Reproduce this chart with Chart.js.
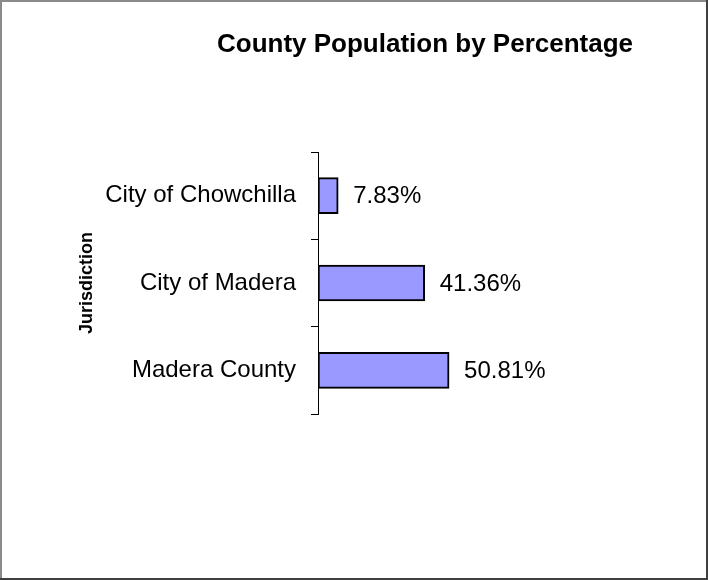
<!DOCTYPE html>
<html>
<head>
<meta charset="utf-8">
<script src="https://cdn.jsdelivr.net/npm/chart.js@4/dist/chart.umd.min.js"></script>
<style>
    body { margin: 0; background: #fff; }
    canvas { display: block; background: #fff; }
</style>
</head>
<body>
<canvas id="pop-chart" width="708" height="580"></canvas>
<script>
// Chart data
const jurisdictions = ['City of Chowchilla', 'City of Madera', 'Madera County'];
const percentages = [7.83, 41.36, 50.81];
const chartTitle = 'County Population by Percentage';
const axisTitle = 'Jurisdiction';

const fontFamily = "'Liberation Sans', Arial, sans-serif";

// Frame around the whole picture + title
const framePlugin = {
    id: 'frame',
    afterDraw(chart) {
        const ctx = chart.ctx;
        const w = chart.width, h = chart.height;
        ctx.save();
        ctx.strokeStyle = '#8a8a8a';
        ctx.lineWidth = 2;
        ctx.beginPath();
        ctx.moveTo(1, h); ctx.lineTo(1, 1); ctx.lineTo(w, 1);
        ctx.stroke();
        ctx.strokeStyle = '#404040';
        ctx.lineWidth = 2;
        ctx.beginPath();
        ctx.moveTo(w - 1, 0); ctx.lineTo(w - 1, h - 1); ctx.lineTo(0, h - 1);
        ctx.stroke();

        ctx.fillStyle = '#000';
        ctx.font = 'bold 26px ' + fontFamily;
        ctx.textAlign = 'center';
        ctx.textBaseline = 'alphabetic';
        ctx.fillText(chartTitle, 425, 52);
        ctx.restore();
    }
};

// Value labels at the end of each bar
const valueLabels = {
    id: 'valueLabels',
    afterDatasetsDraw(chart) {
        const ctx = chart.ctx;
        const meta = chart.getDatasetMeta(0);
        ctx.save();
        ctx.fillStyle = '#000';
        ctx.font = '24px ' + fontFamily;
        ctx.textAlign = 'left';
        ctx.textBaseline = 'middle';
        meta.data.forEach((bar, i) => {
            ctx.fillText(percentages[i].toFixed(2) + '%', bar.x + 15, bar.y + 1);
        });
        ctx.restore();
    }
};

new Chart(document.getElementById('pop-chart'), {
    type: 'bar',
    data: {
        labels: jurisdictions,
        datasets: [{
            data: percentages,
            backgroundColor: '#9999ff',
            borderColor: '#000',
            borderWidth: 2,
            borderSkipped: false,
            barThickness: 36
        }]
    },
    options: {
        indexAxis: 'y',
        responsive: false,
        animation: false,
        layout: {
            padding: { left: 76, right: 132, top: 152, bottom: 166 }
        },
        plugins: {
            legend: { display: false },
            title: { display: false },
            tooltip: { enabled: false }
        },
        scales: {
            x: {
                display: false,
                min: 0,
                max: 100
            },
            y: {
                afterFit(scale) { scale.width = 242; },
                grid: {
                    offset: true,
                    drawOnChartArea: false,
                    drawTicks: true,
                    tickLength: 7,
                    color: '#000'
                },
                border: { display: true, color: '#000', width: 1 },
                ticks: {
                    color: '#000',
                    padding: 15,
                    font: { family: fontFamily, size: 24 }
                },
                title: {
                    display: true,
                    text: axisTitle,
                    color: '#000',
                    padding: 0,
                    font: { family: fontFamily, size: 18, weight: 'bold' }
                }
            }
        }
    },
    plugins: [framePlugin, valueLabels]
});
</script>
</body>
</html>
